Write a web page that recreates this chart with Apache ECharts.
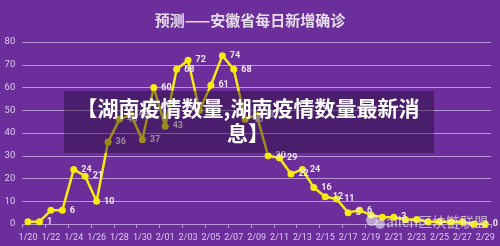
<!DOCTYPE html>
<html>
<head>
<meta charset="utf-8">
<script src="https://cdn.jsdelivr.net/npm/echarts@6/dist/echarts.min.js"></script>
<style>html,body{margin:0;padding:0;background:#6b2e9b;}#c{width:500px;height:246px;}</style>
</head>
<body>
<div id="c"></div>
<script>
const titleText = '预测——安徽省每日新增确诊';
const bannerText = '【湖南疫情数量,湖南疫情数量最新消\n息】';
const watermarkText = 'allen区块链联盟';
const dates = ['1/20','1/21','1/22','1/23','1/24','1/25','1/26','1/27','1/28','1/29','1/30','1/31',
  '2/01','2/02','2/03','2/04','2/05','2/06','2/07','2/08','2/09','2/10','2/11','2/12','2/13','2/14',
  '2/15','2/16','2/17','2/18','2/19','2/20','2/21','2/22','2/23','2/24','2/25','2/26','2/27','2/28','2/29'];
const cases = [1,1,6,6,24,21,10,36,46,48,37,60,43,68,72,50,61,74,68,46,48,30,29,22,24,16,12,11,5,6,4,3,3,2,2,1,1,1,1,0,0];
const labeledDates = ['1/21','1/23','1/24','1/25','1/26','1/27','1/28','1/29','1/30','1/31','2/01','2/02','2/03',
  '2/05','2/06','2/07','2/08','2/09','2/10','2/11','2/12','2/13','2/14','2/15','2/16','2/17','2/18','2/21','2/29'];
const yTicks = {min: 0, max: 80, interval: 10};

const chart = echarts.init(document.getElementById('c'), null, {renderer: 'canvas'});
const lav = '#b795d8';
chart.setOption({
  backgroundColor: '#6b2e9b',
  animation: false,
  title: {
    text: titleText, left: 'center', top: 8,
    textStyle: {color: '#e6deec', fontSize: 15, fontWeight: 'bold', fontFamily: 'Noto Sans CJK SC'}
  },
  grid: {left: 22.3, right: 9, top: 42, bottom: 22},
  xAxis: {
    type: 'category', data: dates, boundaryGap: true,
    axisLine: {lineStyle: {color: lav, width: 1}},
    axisTick: {show: true, interval: 1, length: 4, lineStyle: {color: lav}},
    axisLabel: {interval: 1, color: '#dccbef', fontSize: 9, fontFamily: 'Roboto', margin: 9}
  },
  yAxis: {
    type: 'value', min: yTicks.min, max: yTicks.max, interval: yTicks.interval,
    axisLine: {show: false}, axisTick: {show: false},
    splitLine: {lineStyle: {color: lav, width: 1}},
    axisLabel: {color: '#dccbef', fontSize: 9.5, fontFamily: 'Roboto', margin: 7}
  },
  series: [{
    type: 'line',
    data: cases.map((v, i) => ({
      value: v,
      label: {show: labeledDates.includes(dates[i])}
    })),
    symbol: 'circle', symbolSize: 7,
    lineStyle: {color: '#f7ea12', width: 2.5},
    itemStyle: {color: '#f7ea12'},
    label: {position: 'right', distance: 4, color: '#efe6f6', fontSize: 9, fontWeight: 'bold', fontFamily: 'Roboto'},
    z: 3
  }],
  graphic: [
    {type: 'rect', shape: {x: 64, y: 91, width: 370, height: 62}, style: {fill: 'rgba(30,8,45,0.42)'}, z: 100},
    {type: 'text', x: 248, y: 96, z: 101,
      style: {text: bannerText, fill: '#ffffff', font: 'bold 21px "Noto Sans CJK SC"', align: 'center', verticalAlign: 'top', lineHeight: 25}},
    {type: 'circle', shape: {cx: 372, cy: 220, r: 6}, style: {fill: 'rgba(255,255,255,0.55)'}, z: 102},
    {type: 'circle', shape: {cx: 380, cy: 224, r: 5}, style: {fill: 'rgba(255,255,255,0.55)'}, z: 102},
    {type: 'text', x: 386, y: 222, z: 102,
      style: {text: watermarkText, fill: 'rgba(255,255,255,0.6)', font: '14px "Noto Sans CJK SC"', align: 'left', verticalAlign: 'middle'}}
  ]
});
</script>
</body>
</html>
